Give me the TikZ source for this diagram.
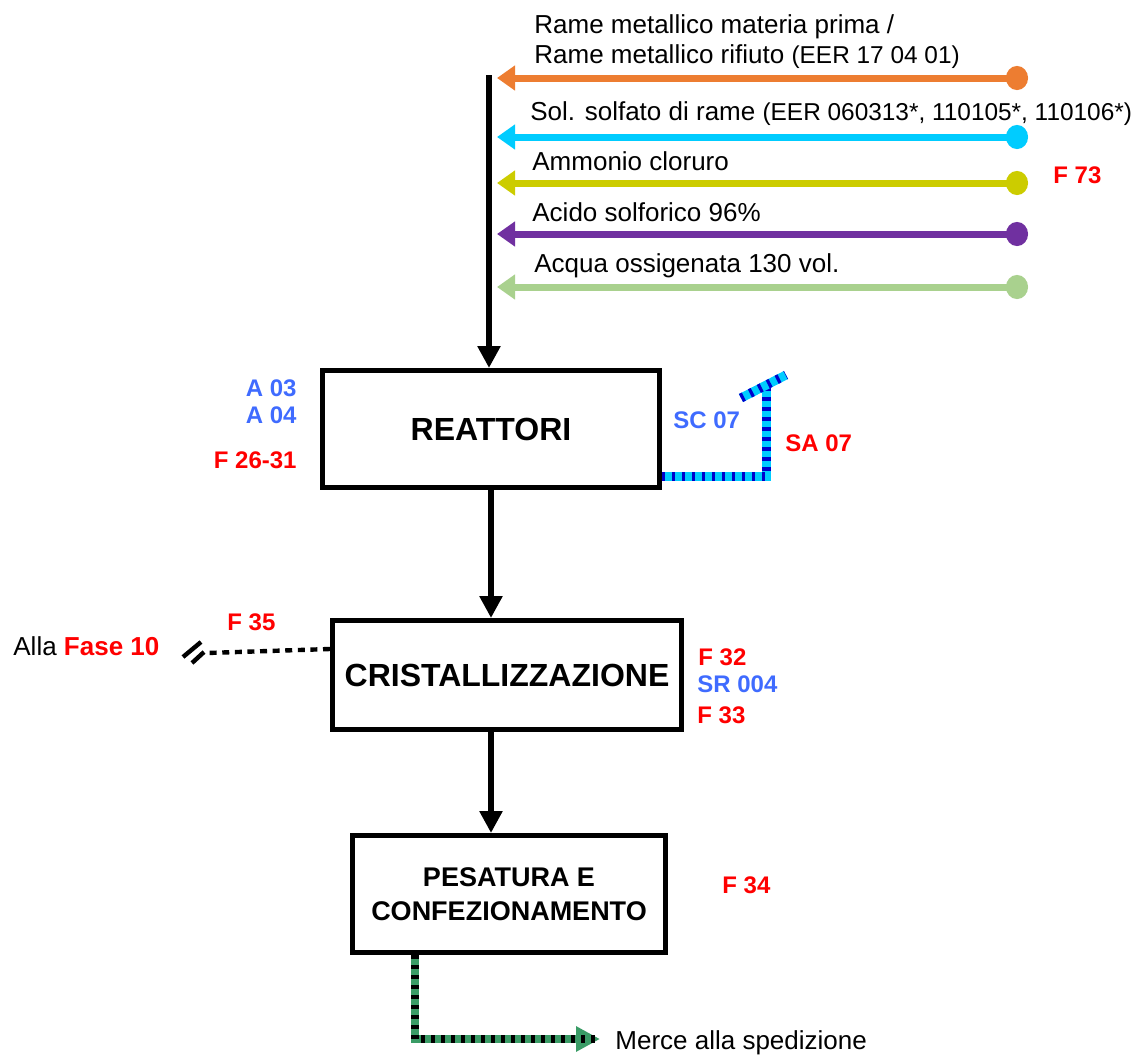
\documentclass[tikz,border=0pt]{standalone}
\usepackage{fontspec}
\setmainfont{Liberation Sans}
\usetikzlibrary{arrows.meta,positioning,calc}
\definecolor{orangeR}{HTML}{ED7D31}
\definecolor{cyanR}{HTML}{00CCFF}
\definecolor{oliveR}{HTML}{CCCC00}
\definecolor{purpleR}{HTML}{7030A0}
\definecolor{lgreenR}{HTML}{A9D18E}
\definecolor{redL}{HTML}{FF0000}
\definecolor{blueL}{HTML}{3F6BFF}
\definecolor{blueS}{HTML}{0000CC}
\definecolor{greenS}{HTML}{3A9C66}
\newcommand{\eerfont}{\fontsize{12.2}{14}\selectfont}

\begin{document}
\begin{tikzpicture}[x=0.5pt,y=-0.5pt,
  box/.style={draw,line width=2.5pt,align=center,font=\fontsize{16}{19}\selectfont\bfseries},
  flow/.style={line width=3pt,-{Triangle[length=11pt,width=11pt]}},
  feed/.style={line width=3.5pt,draw=#1,{Circle[length=11pt,width=12pt]}-{Triangle[length=9pt,width=12pt]}},
  txt/.style={inner sep=0pt,anchor=base west,font=\fontsize{13}{15}\selectfont},
  tagred/.style={inner sep=0pt,text=redL,font=\fontsize{12}{14}\selectfont\bfseries},
  tagblue/.style={tagred,text=blueL},
  scrubber/.style={line width=4.5pt,draw=cyanR,postaction={draw=blueS,dash pattern=on 1.6pt off 3.4pt}},
  waste/.style={line width=2.2pt,dash pattern=on 3.5pt off 2.8pt},
  goods/.style={line width=4pt,draw=greenS,-{Triangle[length=12pt,width=12pt]},
    postaction={draw=black,arrows=-,dash pattern=on 1.8pt off 3.2pt}}]
\useasboundingbox (0,0) rectangle (1136,1055);

% boxes
\node[box,minimum width=168.5pt,minimum height=58.5pt] (reat) at (491,429) {REATTORI};
\node[box,minimum width=174.5pt,minimum height=54.5pt] (cri) at (507,675) {CRISTALLIZZAZIONE};
\node[box,minimum width=156.5pt,minimum height=58.5pt,font=\fontsize{13.5}{17}\selectfont\bfseries]
  (pes) at (509,894) {PESATURA E\\CONFEZIONAMENTO};

% raw materials
\coordinate (trunk) at (489,75);
\foreach \y/\c in {78/orangeR,137/cyanR,183/oliveR,234/purpleR,287/lgreenR}{
  \coordinate (s\y) at (1028,\y);
  \coordinate (e\y) at (497,\y);
  \draw[feed=\c] (s\y) -- (e\y);
}
\draw[flow] (trunk) -- (trunk |- reat.north);
\node[txt] (rame1) at (534,33) {Rame metallico materia prima /};
\node[txt] (rame2) at (534,63) {Rame metallico rifiuto {\eerfont(EER 17 04 01)}};
\node[txt] (solf) at (530,120) {Sol. solfato di rame {\eerfont(EER 060313*, 110105*, 110106*)}};
\node[txt] (ammo) at (532,170) {Ammonio cloruro};
\node[txt] (acido) at (532,221) {Acido solforico 96\%};
\node[txt] (acqua) at (534,272) {Acqua ossigenata 130 vol.};
\node[tagred,anchor=base west] (f73) at (1053,183) {F 73};

% reattori
\node[tagblue,anchor=base east] (a03) at (297,396) {A 03};
\node[tagblue,anchor=base east] (a04) at (297,423) {A 04};
\node[tagred,anchor=base east] (f2631) at (297,468) {F 26-31};
\coordinate (stack) at (766,388);
\draw[scrubber] ([yshift=6.75pt]reat.south east) -| (stack);
\draw[scrubber] ($(stack)+(-25,10)$) -- ($(stack)+(20,-13)$);
\node[tagblue,anchor=base west] (sc07) at (673,428) {SC 07};
\node[tagred,anchor=base west] (sa07) at (785,451) {SA 07};
\draw[flow] (reat.south) -- (reat.south |- cri.north);

% cristallizzazione
\coordinate (fase) at (207,653);
\draw[waste] ([yshift=13pt]cri.west) -- (fase);
\draw[line width=2.2pt] ($(fase)+(-24,4)$) -- ($(fase)+(-6,-11)$);
\draw[line width=2.2pt] ($(fase)+(-15,10)$) -- ($(fase)+(-3,-1)$);
\node[tagred,anchor=base west] (f35) at (227,630) {F 35};
\node[txt] (alla) at (13,655) {Alla \textcolor{redL}{\bfseries Fase 10}};
\node[tagred,anchor=base west] (f32) at (698,665) {F 32};
\node[tagblue,anchor=base west] (sr004) at (697,692) {SR 004};
\node[tagred,anchor=base west] (f33) at (697,723) {F 33};
\draw[flow] (reat.south |- cri.south) -- (reat.south |- pes.north);

% pesatura
\node[tagred,anchor=base west] (f34) at (722,893) {F 34};
\coordinate (ship) at (600,1039);
\draw[goods] ([xshift=32.5pt]pes.south west) |- (ship);
\node[txt] (merce) at (615,1049) {Merce alla spedizione};
\end{tikzpicture}
\end{document}
